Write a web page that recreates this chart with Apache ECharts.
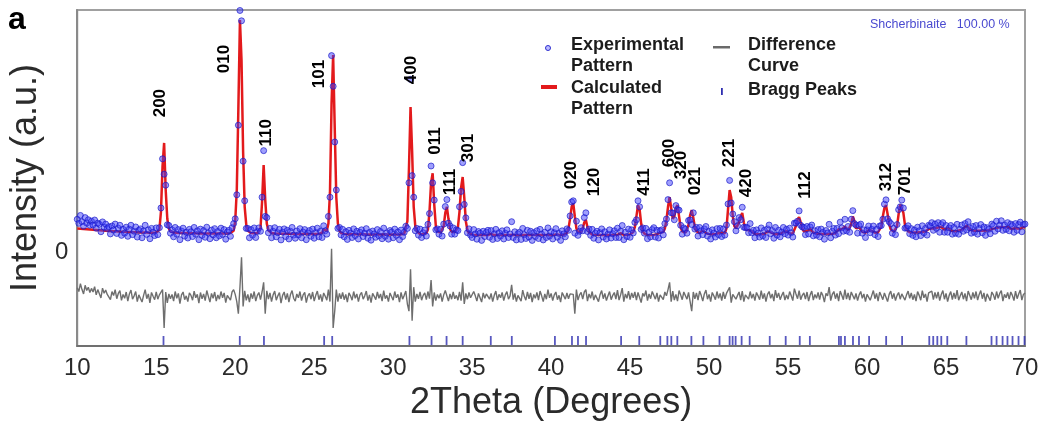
<!DOCTYPE html>
<html>
<head>
<meta charset="utf-8">
<script src="https://cdn.jsdelivr.net/npm/echarts@6/dist/echarts.min.js"></script>
<style>
  html, body { margin: 0; padding: 0; background: #ffffff; }
  #chart { width: 1045px; height: 431px; }
</style>
</head>
<body>
<div id="chart"></div>
<script>
// Scan grid: 2θ from 10° to 70° in 0.1° steps
const scanStart = 10;
const scanStep = 0.1;

// Calculated (refined) profile, one row per degree of 2θ
const calculated = [
  100,99,99,98,97,97,96,96,95,95,
  94,93,93,92,92,91,91,90,90,90,
  89,89,88,88,88,87,87,87,86,86,
  86,85,85,85,85,84,84,84,84,84,
  83,83,83,83,83,82,82,82,82,82,
  82,84,95,170,360,456,260,140,100,88,
  84,83,82,82,81,81,81,81,80,80,
  80,80,80,80,80,80,80,79,79,79,
  79,79,79,79,79,79,79,79,79,79,
  79,79,79,79,79,79,80,81,83,90,
  130,260,600,968,800,420,190,115,90,83,
  81,80,80,80,81,84,100,210,364,220,
  120,92,84,81,80,79,79,78,78,78,
  78,78,78,78,78,78,78,78,77,77,
  77,77,77,77,77,77,77,77,77,77,
  77,77,77,77,78,82,95,88,90,120,
  250,620,822,520,230,120,90,81,78,77,
  76,76,76,76,76,76,76,76,76,76,
  76,76,76,75,75,75,75,75,75,75,
  75,75,75,75,75,75,75,75,75,75,
  75,75,75,75,75,75,76,78,85,130,
  350,606,420,190,110,88,80,77,76,76,
  77,80,95,170,290,330,200,110,88,82,
  82,88,110,165,190,140,98,86,82,84,
  88,105,170,270,314,230,130,92,80,76,
  74,73,73,73,73,72,72,72,72,72,
  72,73,77,74,72,72,72,72,72,72,
  72,72,72,72,73,78,74,72,72,72,
  72,72,72,72,72,72,72,72,72,72,
  72,72,72,72,72,72,72,72,72,72,
  72,72,74,79,75,73,72,72,73,75,
  82,100,140,190,205,150,100,85,80,85,
  100,125,135,105,85,77,74,73,72,72,
  72,72,72,72,72,72,72,72,72,72,
  72,72,73,76,80,76,73,72,72,73,
  75,78,85,105,150,197,180,120,88,78,
  74,73,73,73,73,73,74,76,80,82,
  80,85,100,135,190,230,185,140,150,185,
  197,150,105,88,82,82,90,115,155,176,
  145,105,88,82,80,84,92,86,80,78,
  77,76,76,76,76,77,80,86,82,78,
  80,100,180,260,230,150,110,100,105,125,
  150,164,125,95,88,92,98,88,80,77,
  76,76,76,76,77,78,82,88,92,84,
  79,77,76,76,76,77,79,84,92,88,
  82,79,78,80,88,110,138,147,125,100,
  88,84,88,95,98,90,83,80,78,77,
  77,77,77,77,77,77,77,77,78,78,
  80,86,96,102,96,100,108,100,92,98,
  118,150,130,100,96,104,96,86,82,82,
  84,92,96,90,84,82,82,84,90,108,
  150,185,197,160,118,96,88,86,90,110,
  160,200,206,165,115,94,87,84,83,83,
  83,83,83,84,84,85,86,88,92,97,
  102,100,104,100,106,104,100,106,98,94,
  98,104,96,90,88,88,88,89,90,92,
  94,98,106,112,104,96,92,90,90,90,
  90,90,90,90,90,91,91,92,94,98,
  104,100,108,104,100,106,110,104,100,106,
  100,98,106,100,96,100,104,98,100,106,
  102
];

// Observed minus calculated, same grid
const residual = [
  38,22,55,30,12,48,26,40,18,35,
  20,42,8,30,25,-5,36,15,28,10,
  18,-12,22,5,30,-8,14,26,-15,10,
  -6,20,-18,12,28,-10,4,22,-20,8,
  15,-22,6,30,-8,12,-25,18,2,-12,
  20,-10,8,15,30,-130,20,-25,12,-8,
  10,-18,22,-6,14,-28,8,20,-12,4,
  -20,16,6,-14,24,-4,10,-26,18,-8,
  12,-16,26,2,-22,14,-6,20,-18,8,
  -10,22,-4,16,-24,6,12,-14,20,30,
  10,-20,-70,40,165,-40,25,-15,10,-22,
  14,-8,22,-18,6,18,-12,20,60,-70,
  25,-10,16,-20,8,24,-14,4,18,-26,
  6,20,-12,14,-22,10,26,-6,-18,12,
  -4,22,-16,8,18,-24,4,14,-10,20,
  -18,6,24,-12,10,-20,16,2,-14,30,
  -20,200,-130,-60,30,-20,14,-8,18,-12,
  10,-22,16,4,-14,22,-6,12,-20,8,
  18,-10,4,24,-16,8,-24,14,2,-12,
  20,-6,12,-18,26,-8,6,-20,16,10,
  -14,22,-4,10,-22,18,-10,6,24,-30,
  -60,115,-100,40,-20,12,-8,20,-14,6,
  16,-12,22,-8,70,-40,18,-16,10,-6,
  14,-20,8,26,30,-18,12,-10,20,-8,
  6,-14,20,-16,60,-30,14,-10,18,-4,
  -12,22,4,-18,14,8,-22,16,-6,12,
  20,-10,14,-20,6,24,-14,10,-4,18,
  -16,8,22,-10,4,50,-12,14,-20,6,
  12,-18,28,2,-14,20,-8,16,-22,10,
  -6,18,-14,24,4,-20,12,-10,30,-4,
  14,-16,8,20,-12,6,-22,18,4,-10,
  16,-8,12,20,10,-70,30,-14,8,18,
  -10,20,30,-18,12,-6,22,-14,8,16,
  -20,10,26,-8,14,-16,4,22,-12,6,
  18,-10,28,-14,8,36,-20,12,-6,24,
  -12,16,-4,20,-14,18,10,-24,14,2,
  26,-16,12,-8,22,30,-10,16,-20,8,
  14,-12,20,4,30,60,-20,24,-14,10,
  -18,26,8,-12,20,14,-10,18,-20,-60,
  20,-8,16,-14,24,6,-18,12,28,-10,
  10,-20,18,4,-12,22,-6,14,-16,20,
  -8,14,22,40,-24,10,18,-10,6,20,
  -14,24,-20,8,16,-10,22,-6,12,-16,
  18,4,-12,26,-8,14,-20,10,22,-6,
  12,-18,28,-4,16,-12,6,20,-14,8,
  -10,22,4,-16,34,12,-8,26,-12,6,
  16,-10,20,-18,8,24,-14,10,-6,18,
  -12,20,6,-22,14,4,40,-16,10,22,
  -8,14,-18,24,6,-12,30,-10,16,-14,
  20,24,-10,14,-16,8,22,-6,12,-20,
  10,18,-14,6,26,-8,14,-18,20,4,
  -12,16,22,-20,10,24,-8,14,-16,6,
  18,-10,12,20,-14,8,24,-6,16,-12,
  10,-18,22,6,-14,26,-4,12,-20,16,
  8,24,-12,18,-6,20,-16,10,26,-10,
  14,-20,6,22,-12,16,-8,28,-14,4,
  20,-10,14,-18,24,6,-12,18,-6,22,
  -14,10,26,-8,16,-20,12,4,-16,20,
  8,-12,22,-6,14,26,-18,10,-4,18,
  -10,20,6,-16,24,-8,12,28,-14,10,
  16
];

// Baseline of the difference curve and row of the reflection markers
const diffOffset = -185;
const braggRow = -367;

// Allowed reflection positions (2θ)
const braggPositions = [
  15.46, 20.29, 21.82, 25.63, 26.14, 31.03, 32.43, 33.38, 34.40, 36.18,
  37.51, 40.24, 41.32, 41.70, 42.21, 44.43, 45.58, 46.91, 47.36, 47.61,
  47.99, 48.88, 49.64, 50.66, 51.30, 51.49, 51.68, 52.06, 52.57, 53.84,
  54.85, 55.74, 56.38, 58.22, 58.35, 58.60, 59.11, 59.49, 60.13, 61.21,
  62.22, 63.94, 64.19, 64.45, 64.70, 65.08, 66.29, 67.88, 68.20, 68.58,
  68.89, 69.21, 69.59, 69.97
];

// Miller indices of the indexed peaks, with where each tag sits
const hklLabels  = ['200','010','110','101','400','011','111','301','020','120',
                    '411','600','320','021','221','420','112','312','701'];
const hklAngles  = [15.27, 19.28, 21.94, 25.31, 31.16, 32.68, 33.63, 34.78, 41.26, 42.72,
                    45.90, 47.48, 48.25, 49.14, 51.30, 52.38, 56.12, 61.21, 62.41];
const hklHeights = [622, 806, 498, 743, 760, 464, 293, 435, 322, 293,
                    293, 414, 364, 297, 414, 289, 281, 314, 297];

const angles = calculated.map((_, i) => +(scanStart + i * scanStep).toFixed(1));
const observedData = calculated.map((c, i) => [angles[i], c + residual[i]]);
const calculatedData = calculated.map((c, i) => [angles[i], c]);
const differenceData = residual.map((r, i) => [angles[i], diffOffset + r]);
const braggData = braggPositions.map(p => [p, braggRow]);
const hklData = hklLabels.map((t, i) => [hklAngles[i], hklHeights[i], t]);

const FONT = '"Liberation Sans", Arial, sans-serif';
const chart = echarts.init(document.getElementById('chart'), null, { renderer: 'canvas' });

const legendText = {
  fontFamily: FONT, fontSize: 18, fontWeight: 'bold', fill: '#1c1c1c', lineHeight: 21
};

chart.setOption({
  backgroundColor: '#ffffff',
  animation: false,
  grid: {
    left: 77, right: 20, top: 10, bottom: 85,
    show: true, borderColor: '#a0a0a0', borderWidth: 2, backgroundColor: 'transparent'
  },
  xAxis: {
    type: 'value', min: 10, max: 70, interval: 5,
    name: '2Theta (Degrees)', nameLocation: 'middle', nameGap: 38,
    nameTextStyle: { fontFamily: FONT, fontSize: 36, color: '#2b2b2b' },
    axisLine: { show: true, onZero: false, lineStyle: { color: '#707070', width: 2 } },
    axisTick: { show: false },
    splitLine: { show: false },
    axisLabel: { fontFamily: FONT, fontSize: 24, color: '#2b2b2b', margin: 10 }
  },
  yAxis: {
    type: 'value', min: -390, max: 1010,
    name: 'Intensity (a.u.)', nameLocation: 'middle', nameGap: 30, nameRotate: 90,
    nameTextStyle: { fontFamily: FONT, fontSize: 36, color: '#2b2b2b' },
    axisLine: { show: true, onZero: false, lineStyle: { color: '#8a8a8a', width: 2 } },
    axisTick: { show: false },
    splitLine: { show: false },
    axisLabel: { customValues: [0], fontFamily: FONT, fontSize: 24, color: '#2b2b2b', margin: 9 }
  },
  series: [
    {
      name: 'Calculated Pattern', type: 'line', data: calculatedData,
      showSymbol: false, z: 2,
      lineStyle: { color: '#e31a1c', width: 2.5 }
    },
    {
      name: 'Experimental Pattern', type: 'scatter', data: observedData,
      symbol: 'circle', symbolSize: 6, z: 3,
      itemStyle: { color: 'rgba(60,60,250,0.62)', borderColor: 'rgba(25,25,200,0.85)', borderWidth: 1 }
    },
    {
      name: 'Difference Curve', type: 'line', data: differenceData,
      showSymbol: false, z: 2,
      lineStyle: { color: '#6e6e6e', width: 1.4 }
    },
    {
      name: 'Bragg Peaks', type: 'scatter', data: braggData,
      symbol: 'rect', symbolSize: [1.8, 9], z: 2,
      itemStyle: { color: '#2e2eb0' }
    },
    {
      name: 'hkl', type: 'scatter', data: hklData,
      symbolSize: 0.1, z: 4, silent: true,
      itemStyle: { color: 'transparent' },
      label: {
        show: true, position: 'inside', rotate: 90,
        align: 'center', verticalAlign: 'middle',
        formatter: p => p.value[2],
        fontFamily: FONT, fontSize: 17, fontWeight: 'bold', color: '#000000',
        textBorderWidth: 0, opacity: 1
      }
    }
  ],
  graphic: [
    { type: 'text', left: 8, top: 4,
      style: { text: 'a', fontFamily: FONT, fontSize: 32, fontWeight: 'bold', fill: '#000' } },
    { type: 'text', left: 870, top: 18,
      style: { text: 'Shcherbinaite   100.00 %', fontFamily: FONT, fontSize: 12.5, fill: '#4a4ad0' } },
    // legend, left column
    { type: 'circle', shape: { cx: 548, cy: 48, r: 2.5 },
      style: { fill: 'rgba(120,120,255,0.5)', stroke: '#2f2fd0', lineWidth: 1 } },
    { type: 'text', x: 571, y: 34.5, style: Object.assign({ text: 'Experimental\nPattern' }, legendText) },
    { type: 'rect', shape: { x: 541, y: 85, width: 16, height: 4 }, style: { fill: '#e31a1c' } },
    { type: 'text', x: 571, y: 77.5, style: Object.assign({ text: 'Calculated\nPattern' }, legendText) },
    // legend, right column
    { type: 'rect', shape: { x: 713, y: 46, width: 17, height: 2.5 }, style: { fill: '#6a6a6a' } },
    { type: 'text', x: 748, y: 34.5, style: Object.assign({ text: 'Difference\nCurve' }, legendText) },
    { type: 'rect', shape: { x: 721, y: 88, width: 1.8, height: 7 }, style: { fill: '#2e2eb0' } },
    { type: 'text', x: 748, y: 79.5, style: Object.assign({ text: 'Bragg Peaks' }, legendText) }
  ]
});
</script>
</body>
</html>
